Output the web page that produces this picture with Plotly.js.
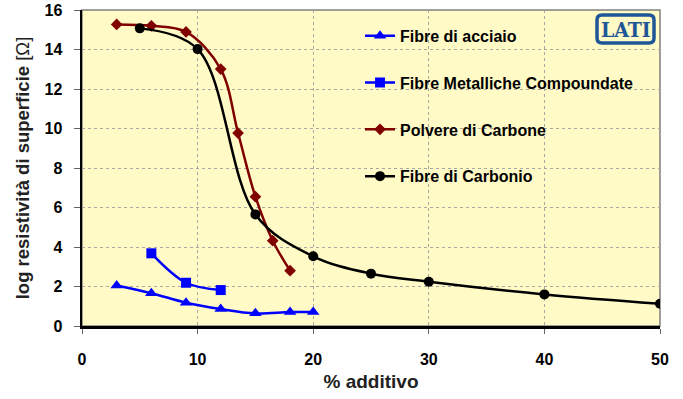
<!DOCTYPE html>
<html><head><meta charset="utf-8">
<script src="https://cdn.plot.ly/plotly-3.0.1.min.js"></script>
<style>html,body{margin:0;padding:0;background:#fff}#chart{width:683px;height:399px}</style>
</head><body><div id="chart"></div>
<script>
const acciaioX = [3, 6, 9, 12, 15, 18, 20];
const acciaioY = [2.05, 1.66, 1.18, 0.86, 0.64, 0.71, 0.71];
const metalX = [6, 9, 12];
const metalY = [3.68, 2.19, 1.82];
const polvereX = [3, 6, 9, 12, 13.5, 15, 16.5, 18];
const polvereY = [15.27, 15.2, 14.89, 13.01, 9.77, 6.55, 4.32, 2.8];
const carbonioX = [5, 10, 15, 20, 25, 30, 40, 50];
const carbonioY = [15.07, 14.02, 5.65, 3.53, 2.65, 2.24, 1.6, 1.13];
const names = ["Fibre di acciaio", "Fibre Metalliche Compoundate", "Polvere di Carbone", "Fibre di Carbonio"];
const xTicks = [0, 10, 20, 30, 40, 50];
const yTicks = [0, 2, 4, 6, 8, 10, 12, 14, 16];

const FONT = "Liberation Sans, Arial, sans-serif";
function tr(x, y, name, color, symbol, size, g) {
  return {x: x, y: y, name: name, type: 'scatter', mode: 'lines+markers',
    line: {color: color, width: 2.5, shape: 'spline', smoothing: 1},
    marker: {color: color, symbol: symbol, size: size},
    legendgroup: g};
}
const data = [
  tr(acciaioX, acciaioY, names[0], '#0000FF', 'triangle-up', 11, 'a'),
  tr(metalX, metalY, names[1], '#0000FF', 'square', 10, 'b'),
  tr(polvereX, polvereY, names[2], '#800000', 'diamond', 9, 'c'),
  tr(carbonioX, carbonioY, names[3], '#000000', 'circle', 10, 'd')
];
const layout = {
  width: 683, height: 399,
  margin: {l: 82, r: 23, t: 10, b: 73},
  paper_bgcolor: '#ffffff', plot_bgcolor: '#FFFAC6',
  font: {family: FONT, size: 16, color: '#000', weight: 700},
  showlegend: true,
  legend: {x: 0.481, y: 0.972, xanchor: 'left', yanchor: 'top', bgcolor: 'rgba(0,0,0,0)',
    tracegroupgap: 23, traceorder: 'grouped', font: {family: FONT, size: 16, weight: 700}},
  xaxis: {range: [0, 50], tickvals: xTicks, ticks: 'outside', ticklen: 5, tickcolor: '#666',
    showline: true, linecolor: '#000', linewidth: 2.5, showgrid: true, gridcolor: '#a8a8a0',
    griddash: 'dot', gridwidth: 1, zeroline: false, ticklabelstandoff: 12,
    tickfont: {size: 16, weight: 700},
    title: {text: '% additivo', font: {size: 19, weight: 700, color: '#222'}, standoff: 8}},
  yaxis: {range: [0, 16], tickvals: yTicks, ticks: 'outside', ticklen: 6, tickcolor: '#666',
    showline: true, linecolor: '#000', linewidth: 2.5, showgrid: true, gridcolor: '#a8a8a0',
    griddash: 'dot', gridwidth: 1, zeroline: false, ticklabelstandoff: 8,
    tickfont: {size: 16, weight: 700},
    title: {text: '<b>log resistività di superficie</b> [Ω]', font: {size: 18.5, weight: 400, color: '#222'}, standoff: 10}},
  shapes: [
    {type: 'rect', xref: 'paper', yref: 'paper', x0: 0, x1: 1, y0: 0, y1: 1, layer: 'below',
      line: {color: '#808080', width: 1.5}},
    {type: 'path', xref: 'paper', yref: 'paper', xsizemode: 'pixel', ysizemode: 'pixel',
      xanchor: 1, yanchor: 1,
      path: 'M -58,-5 L -11,-5 Q -6,-5 -6,-10 L -6,-28 Q -6,-33 -11,-33 L -58,-33 Q -63,-33 -63,-28 L -63,-10 Q -63,-5 -58,-5 Z',
      line: {color: '#1F5696', width: 3.5}, fillcolor: 'rgba(0,0,0,0)'}
  ],
  annotations: [
    {xref: 'paper', yref: 'paper', x: 1, y: 1, xanchor: 'center', yanchor: 'middle',
      xshift: -34.5, yshift: -19, text: '<b>LATI</b>', showarrow: false,
      font: {family: 'DejaVu Serif Condensed, DejaVu Serif, serif', size: 21, weight: 900, color: '#1F5696'}}
  ]
};
Plotly.newPlot('chart', data, layout, {displayModeBar: false, staticPlot: true});
</script></body></html>
